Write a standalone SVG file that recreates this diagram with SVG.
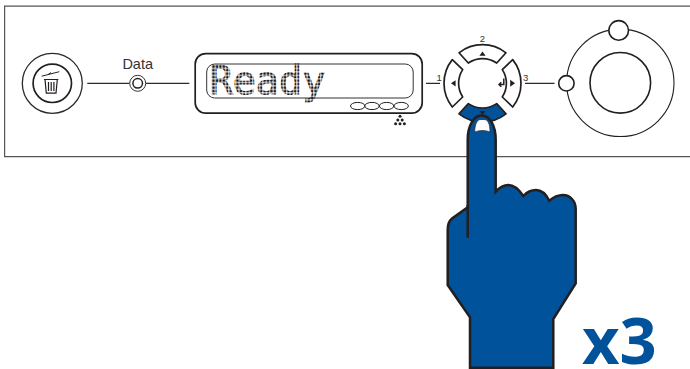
<svg xmlns="http://www.w3.org/2000/svg" width="690" height="369" viewBox="0 0 690 369">
<style>
.ln{fill:none;stroke:#2a2a2a;stroke-width:1.3}
.wh{fill:#fff;stroke:#231f20;stroke-width:1.6}
.lbl{font-family:"Liberation Sans",Arial,sans-serif;fill:#333}
.k{fill:#231f20}
.btn{fill:#fff;stroke:#231f20;stroke-width:1.7;stroke-linejoin:round}
</style>
<defs>
<pattern id="dots" patternUnits="userSpaceOnUse" x="212" y="65" width="3.4" height="3.5">
<rect x="0.4" y="0.4" width="2.4" height="2.5" fill="#1a1718"/>
</pattern>
</defs>
<rect width="690" height="369" fill="#fff"/>
<path id="panel" d="M690 6.2H4.6V156.6H690" fill="none" stroke="#555" stroke-width="1.2"/>
<g id="connectors">
<path class="ln" d="M87.3 83.3H129.7M146 83.3H189.3M426 83.3H440M525 83.3H554.5"/>
</g>
<g id="trash-button">
<circle class="ln" cx="52.3" cy="83.3" r="30"/>
<circle cx="52.3" cy="83.3" r="19.2" fill="none" stroke="#231f20" stroke-width="1.7"/>
<path d="M41.7 76.2L59.3 71.7M48 74.6L51 72.6" fill="none" stroke="#231f20" stroke-width="1"/>
<path d="M44 79.5H58.3M45 79.5L46.3 93.2H56L57.3 79.5M48.5 82V91M51.2 82V91M53.9 82V91" fill="none" stroke="#231f20" stroke-width="1.2"/>
</g>
<g id="data-led">
<text class="lbl" x="122.4" y="69.3" font-size="14.5">Data</text>
<circle cx="137.7" cy="83.3" r="8" fill="#fff" stroke="#333" stroke-width="1"/>
<circle cx="137.7" cy="83.3" r="4.8" fill="#fff" stroke="#231f20" stroke-width="1.5"/>
</g>
<g id="lcd">
<rect x="195.2" y="53.6" width="227" height="59.6" rx="10.5" fill="#fff" stroke="#231f20" stroke-width="1.7"/>
<rect x="206.7" y="64" width="206.5" height="34" rx="8" fill="none" stroke="#333" stroke-width="1"/>
<text x="209.5" y="94" font-family="'DejaVu Sans Mono','Liberation Mono',monospace" font-size="38.5" fill="url(#dots)" stroke="url(#dots)" stroke-width="1.1">Ready</text>
<g fill="#fff" stroke="#231f20" stroke-width="1">
<ellipse cx="357.7" cy="106" rx="7.2" ry="3.6"/>
<ellipse cx="372" cy="106" rx="7.2" ry="3.6"/>
<ellipse cx="386.6" cy="106" rx="7.2" ry="3.6"/>
<ellipse cx="401.2" cy="106" rx="7.2" ry="3.6"/>
</g>
<g class="k">
<circle cx="400" cy="116.3" r="1.5"/>
<circle cx="397.8" cy="120" r="1.5"/>
<circle cx="402.2" cy="120" r="1.5"/>
<circle cx="395.6" cy="123.7" r="1.5"/>
<circle cx="400" cy="123.7" r="1.5"/>
<circle cx="404.4" cy="123.7" r="1.5"/>
</g>
</g>
<g id="keypad">
<path id="btn-up" class="btn" d="M459 52.8A38 38 0 0 1 506 52.8L496.7 63A25 25 0 0 0 468.3 63Z"/>
<path id="btn-left" class="btn" d="M452.3 59.6A38 38 0 0 0 452.3 107L462.7 97A25 25 0 0 1 462.7 69.6Z"/>
<path id="btn-right" class="btn" d="M512.7 59.6A38 38 0 0 1 512.7 107L502.3 97A25 25 0 0 0 502.3 69.6Z"/>
<path id="btn-down" d="M459 113.8A38 38 0 0 0 506 113.8L496.7 103.6A25 25 0 0 1 468.3 103.6Z" fill="#00529b" stroke="#231f20" stroke-width="1.7" stroke-linejoin="round"/>
<path class="k" d="M482.5 51.6L485.6 55.8H479.4ZM451 83.3L455.6 80.2V86.4ZM515 83.3L510.2 79.8V86.8ZM479.6 111H485.4L482.5 115.2Z"/>
<path d="M503.8 78.5V84.4H499.5M501.3 82.2L499 84.4L501.3 86.8" fill="none" stroke="#231f20" stroke-width="1.5"/>
<text class="lbl" x="482.3" y="42" font-size="9.5" text-anchor="middle">2</text>
<text class="lbl" x="439.2" y="81.2" font-size="9.5" text-anchor="middle">1</text>
<text class="lbl" x="525.7" y="81.2" font-size="9.5" text-anchor="middle">3</text>
</g>
<g id="dial">
<circle cx="620.3" cy="82.8" r="53.7" fill="none" stroke="#231f20" stroke-width="1.1"/>
<circle cx="620.3" cy="82.8" r="30.3" fill="none" stroke="#231f20" stroke-width="1.6"/>
<circle class="wh" cx="618.7" cy="30.4" r="9.8"/>
<circle class="wh" cx="566.4" cy="83.3" r="7.7"/>
</g>
<g id="hand">
<path d="M467.7 207.3V140C467.7 125 474 115.5 481.7 115.5C489.4 115.5 495.7 125 495.7 140V191.7C500 187 504 185 508.3 185C514 185 519 189.5 523.3 196C527 192 531 190 536 190C542 190 546 194 549.3 200.7C553.5 197 558 195 563 195C570 195 575.7 201 575.7 209V283.3L553.3 319V367.7H470V317.3L447.7 285V230C447.7 225 449 221 452 218.5Z" fill="#00529b" stroke="#231f20" stroke-width="2.5" stroke-linejoin="miter"/>
<path d="M467.7 205V237.7" fill="none" stroke="#231f20" stroke-width="2.5"/>
<path d="M474.6 132C475 124 477 119.5 481 119.5H484C488 119.5 490 124 490 132C485 130 480 130 474.6 132Z" fill="#fff" stroke="#231f20" stroke-width="0.7"/>
</g>
<text id="times" x="582" y="364" font-family="'Open Sans','Liberation Sans',sans-serif" font-weight="700" font-size="65" fill="#00529b">x3</text>
</svg>
